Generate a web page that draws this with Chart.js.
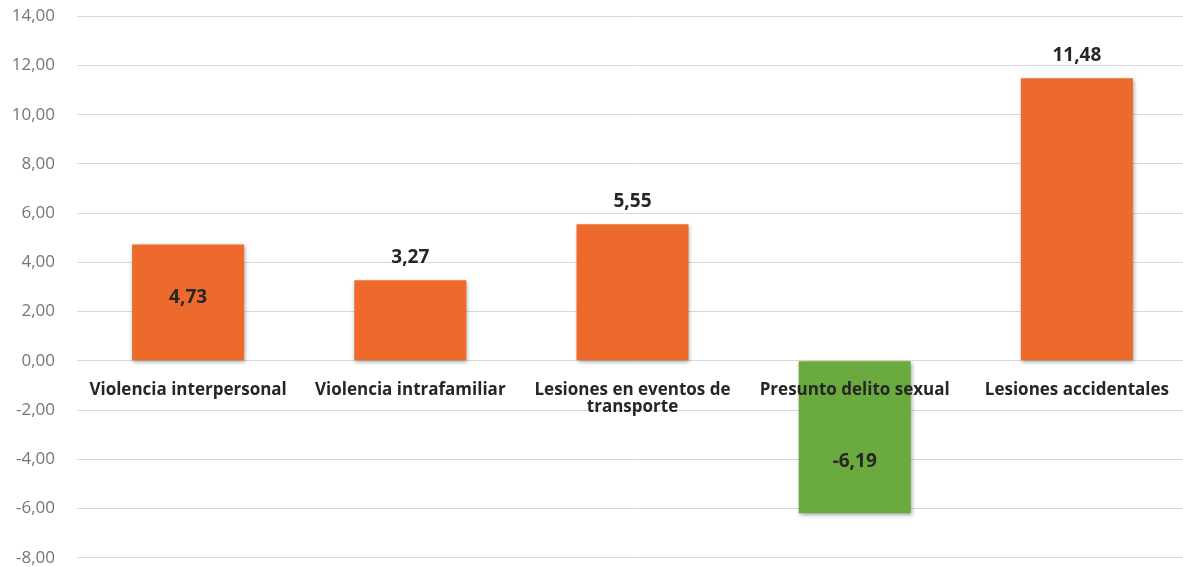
<!DOCTYPE html>
<html>
<head>
<meta charset="utf-8">
<script src="https://cdn.jsdelivr.net/npm/chart.js@4/dist/chart.umd.min.js"></script>
<style>
  html { overflow: hidden; }
  html, body { margin: 0; padding: 0; background: #ffffff; }
  #c { display: block; }
</style>
</head>
<body>
<canvas id="c" width="1190" height="567"></canvas>
<script>
const categories = [
  'Violencia interpersonal',
  'Violencia intrafamiliar',
  ['Lesiones en eventos de', 'transporte'],
  'Presunto delito sexual',
  'Lesiones accidentales'
];
const values = [4.73, 3.27, 5.55, -6.19, 11.48];
const yTickMin = -8;
const yTickMax = 14;
const yTickStep = 2;

const ORANGE = '#EE6A2C';
const GREEN = '#6AAA3E';
const FONT = "'Open Sans', 'Noto Sans', sans-serif";

const fmt = v => Number(v).toFixed(2).replace('.', ',');

const shadowPlugin = {
  id: 'barShadow',
  beforeDatasetsDraw(chart) {
    const ctx = chart.ctx;
    ctx.save();
    ctx.shadowColor = 'rgba(0,0,0,0.35)';
    ctx.shadowBlur = 4;
    ctx.shadowOffsetX = 1;
    ctx.shadowOffsetY = 2;
  },
  afterDatasetsDraw(chart) {
    chart.ctx.restore();
  }
};

// Data labels: inside (at a fraction of the bar) or above the bar end
const labelPlugin = {
  id: 'valueLabels',
  afterDatasetsDraw(chart, args, opts) {
    const ctx = chart.ctx;
    const meta = chart.getDatasetMeta(0);
    const data = chart.data.datasets[0].data;
    ctx.save();
    ctx.font = 'bold 19px ' + FONT;
    ctx.fillStyle = '#262626';
    ctx.textAlign = 'center';
    ctx.textBaseline = 'middle';
    meta.data.forEach((bar, i) => {
      const inside = opts.inside[i];
      const y = inside != null ? bar.base + (bar.y - bar.base) * inside : bar.y - 23;
      ctx.fillText(fmt(data[i]), bar.x, y);
    });
    ctx.restore();
  }
};

const canvas = document.getElementById('c');
const chart = new Chart(canvas, {
  type: 'bar',
  data: {
    labels: categories,
    datasets: [{
      data: values,
      backgroundColor: values.map(v => v < 0 ? GREEN : ORANGE),
      borderWidth: 0,
      barPercentage: 0.504,
      categoryPercentage: 1.0
    }]
  },
  options: {
    responsive: false,
    maintainAspectRatio: false,
    animation: false,
    layout: { padding: { top: 0, bottom: 0, left: 0, right: 2 } },
    plugins: {
      legend: { display: false },
      tooltip: { enabled: false },
      valueLabels: { inside: [0.54, null, null, 0.66, null] }
    },
    scales: {
      x: {
        position: { y: 0 },
        grid: { display: false, drawTicks: false },
        border: { display: false },
        ticks: {
          z: 1,
          autoSkip: false,
          maxRotation: 0,
          minRotation: 0,
          padding: 20,
          color: '#262626',
          font: { family: FONT, size: 17, weight: 'bold', lineHeight: 1.05 }
        }
      },
      y: {
        min: yTickMin,
        max: yTickMax,
        afterFit(scale) { scale.width = 77; },
        ticks: {
          stepSize: yTickStep,
          padding: 22,
          color: '#767676',
          font: { family: FONT, size: 17 },
          callback: v => fmt(v)
        },
        grid: { color: '#d9d9d9', lineWidth: 1, drawTicks: false },
        border: { display: false }
      }
    }
  },
  plugins: [shadowPlugin, labelPlugin]
});

// Fit the plot area so that the top and bottom ticks sit where the reference has them
const TARGET_TOP = 15.7, TARGET_BOTTOM = 557.3;
for (let k = 0; k < 4; k++) {
  const a = chart.chartArea;
  const dh = (TARGET_BOTTOM - TARGET_TOP) - (a.bottom - a.top);
  if (Math.abs(dh) > 0.3) chart.resize(1190, Math.round(chart.height + dh));
}
canvas.style.marginTop = (TARGET_TOP - chart.chartArea.top) + 'px';
</script>
</body>
</html>
